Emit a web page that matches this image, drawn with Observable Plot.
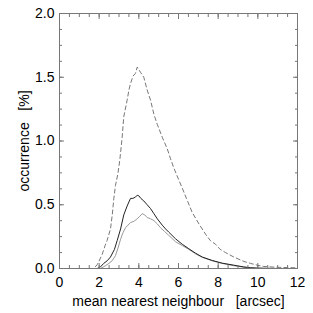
<!DOCTYPE html>
<html><head><meta charset="utf-8">
<script src="https://cdn.jsdelivr.net/npm/d3@7"></script>
<script src="https://cdn.jsdelivr.net/npm/@observablehq/plot@0.6"></script>
<style>body{margin:0;background:#fff;} svg{font-family:"Liberation Sans",Arial,sans-serif;}</style>
</head><body>
<div id="chart"></div>
<script>
// series: dashed (tallest), solid dark, light grey
const dashedX = [1.5,1.73,1.9,2.0,2.15,2.3,2.4,2.57,2.66,2.74,2.82,2.94,3.04,3.16,3.24,3.41,3.5,3.58,3.71,3.83,3.92,4.0,4.08,4.25,4.42,4.59,4.76,4.93,5.18,5.43,5.6,5.76,6.0,6.19,6.4,6.69,7.03,7.36,7.6,7.87,8.1,8.37,8.79,9.3,9.63,10.0,10.3,10.9,11.5,12.0];
const dashedY = [0,0,0.03,0.06,0.11,0.18,0.22,0.31,0.42,0.55,0.65,0.74,0.85,1.03,1.19,1.32,1.40,1.45,1.51,1.53,1.58,1.56,1.54,1.50,1.40,1.32,1.21,1.13,1.03,0.94,0.86,0.79,0.70,0.63,0.55,0.44,0.35,0.27,0.22,0.19,0.15,0.125,0.09,0.055,0.04,0.025,0.016,0.01,0.007,0.005];
const solidX = [1.6,1.9,2.05,2.23,2.4,2.57,2.77,2.91,3.08,3.24,3.41,3.58,3.7,3.83,3.92,4.0,4.1,4.25,4.42,4.59,4.76,4.93,5.18,5.35,5.51,5.85,6.19,6.52,6.86,7.2,7.7,8.2,8.79,9.3,9.63,10.0,10.5,11.0];
const solidY = [0,0,0.01,0.04,0.06,0.09,0.15,0.22,0.31,0.42,0.49,0.55,0.55,0.56,0.575,0.57,0.55,0.53,0.50,0.47,0.43,0.39,0.34,0.31,0.285,0.233,0.19,0.155,0.12,0.09,0.063,0.042,0.026,0.012,0.006,0.003,0.001,0];
const greyX = [1.8,2.07,2.3,2.49,2.65,2.82,2.95,3.08,3.2,3.33,3.45,3.58,3.75,3.92,4.05,4.17,4.3,4.42,4.59,4.76,4.93,5.09,5.3,5.51,5.85,6.19,6.52,6.86,7.2,7.7,8.2,8.79,9.3,9.63,10.0,11.0];
const greyY = [0,0,0.02,0.04,0.06,0.10,0.16,0.23,0.28,0.32,0.34,0.36,0.37,0.39,0.41,0.43,0.42,0.40,0.39,0.376,0.35,0.32,0.29,0.26,0.21,0.18,0.15,0.115,0.087,0.06,0.04,0.022,0.01,0.005,0.002,0];

const xMajor = [0,2,4,6,8,10,12];
const xMinor = d3.range(0,12.001,0.5);
const yMajor = [0,0.5,1.0,1.5,2.0];
const yMinor = d3.range(0,2.0001,0.125);

const toRows = (xs, ys) => xs.map((x,i)=>({x, y: ys[i]}));
const axisColor = "#777";

const plot = Plot.plot({
  width: 313, height: 313,
  marginLeft: 59, marginRight: 16, marginTop: 13, marginBottom: 45,
  style: {fontFamily: '"Liberation Sans", Arial, sans-serif', fontSize: "14px", color: "#000", background: "#fff"},
  x: {domain: [0,12]},
  y: {domain: [0,2]},
  marks: [
    Plot.line(toRows(dashedX, dashedY), {x:"x", y:"y", stroke:"#777", strokeWidth:1, strokeDasharray:"4,3"}),
    Plot.line(toRows(greyX, greyY), {x:"x", y:"y", stroke:"#999", strokeWidth:1}),
    Plot.line(toRows(solidX, solidY), {x:"x", y:"y", stroke:"#222", strokeWidth:1}),
    Plot.axisX(xMinor, {anchor:"bottom", tickSize:-3, tickFormat:()=>"", label:null, stroke:axisColor}),
    Plot.axisX(xMajor, {anchor:"bottom", tickSize:-5, tickFormat:()=>"", label:null, stroke:axisColor}),
    Plot.axisX(xMinor, {anchor:"top", tickSize:-3, tickFormat:()=>"", label:null, stroke:axisColor}),
    Plot.axisX(xMajor, {anchor:"top", tickSize:-5, tickFormat:()=>"", label:null, stroke:axisColor}),
    Plot.axisY(yMinor, {anchor:"left", tickSize:-3, tickFormat:()=>"", label:null, stroke:axisColor}),
    Plot.axisY(yMajor, {anchor:"left", tickSize:-5, tickFormat:()=>"", label:null, stroke:axisColor}),
    Plot.axisY(yMinor, {anchor:"right", tickSize:-3, tickFormat:()=>"", label:null, stroke:axisColor}),
    Plot.axisY(yMajor, {anchor:"right", tickSize:-5, tickFormat:()=>"", label:null, stroke:axisColor}),
    Plot.axisX(xMajor, {anchor:"bottom", tickSize:0, tickPadding:9, tickFormat:d3.format("d"), fontSize:14, fill:"#000",
      label:"mean nearest neighbour\u00a0\u00a0\u00a0[arcsec]", labelAnchor:"center", labelArrow:"none", labelOffset:37}),
    Plot.axisY(yMajor, {anchor:"left", tickSize:0, tickPadding:5, tickFormat:d3.format(".1f"), fontSize:14, fill:"#000",
      label:"occurrence\u00a0\u00a0\u00a0[%]", labelAnchor:"center", labelArrow:"none", labelOffset:40}),
    Plot.frame({stroke: axisColor})
  ]
});
document.getElementById("chart").appendChild(plot);
</script>
</body></html>
